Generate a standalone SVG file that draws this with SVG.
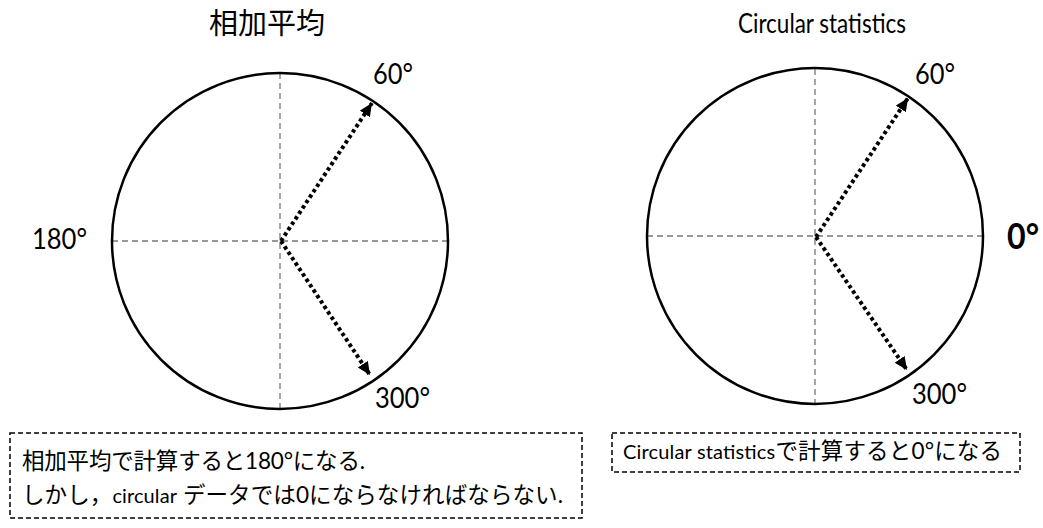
<svg xmlns="http://www.w3.org/2000/svg" width="1043" height="528" viewBox="0 0 1043 528">
<defs>
<style>
.lat{font-family:Lato,"Noto Sans CJK JP",sans-serif;fill:#000}
.jp{font-family:"Noto Sans CJK JP",sans-serif;fill:#000}
.circ{fill:none;stroke:#000;stroke-width:2.5}
.axis{stroke:#777;stroke-width:1.3;stroke-dasharray:6 4;fill:none}
.vec{stroke:#000;stroke-width:4;stroke-dasharray:3.5 3;fill:none}
.box{fill:none;stroke:#000;stroke-width:1.5;stroke-dasharray:5 3}
</style>
<marker id="ah" markerUnits="userSpaceOnUse" markerWidth="16" markerHeight="14" refX="13" refY="6" orient="auto">
<path d="M0,0 L13,6 L0,12 Z" fill="#000"/>
</marker>
</defs>
<rect width="1043" height="528" fill="#fff"/>
<g id="title-left"><text class="jp" x="209" y="34" font-size="29">相加平均</text></g>
<g id="title-right"><text class="lat" x="738" y="33" font-size="27" textLength="168" lengthAdjust="spacingAndGlyphs">Circular statistics</text></g>
<g id="circle-left">
<line class="axis" x1="280" y1="73" x2="280" y2="408"/>
<line class="axis" x1="112" y1="241" x2="448" y2="241"/>
<circle class="circ" cx="280" cy="241" r="168"/>
</g>
<g id="circle-right">
<line class="axis" x1="815" y1="69" x2="815" y2="403"/>
<line class="axis" x1="647" y1="236" x2="983" y2="236"/>
<circle class="circ" cx="815" cy="236" r="168"/>
</g>
<g id="connectors">
<line class="vec" x1="281" y1="241" x2="372" y2="103" marker-end="url(#ah)"/>
<line class="vec" x1="281" y1="241" x2="370" y2="375" marker-end="url(#ah)"/>
<line class="vec" x1="816" y1="237" x2="908" y2="98" marker-end="url(#ah)"/>
<line class="vec" x1="816" y1="237" x2="907" y2="370" marker-end="url(#ah)"/>
</g>
<g id="labels">
<text class="lat" x="373" y="84" font-size="28" textLength="40" lengthAdjust="spacingAndGlyphs">60°</text>
<text class="lat" x="375" y="408" font-size="28" textLength="55" lengthAdjust="spacingAndGlyphs">300°</text>
<text class="lat" x="32" y="249" font-size="28" textLength="55" lengthAdjust="spacingAndGlyphs">180°</text>
<text class="lat" x="915" y="84" font-size="28" textLength="40" lengthAdjust="spacingAndGlyphs">60°</text>
<text class="lat" x="912" y="404" font-size="28" textLength="55" lengthAdjust="spacingAndGlyphs">300°</text>
<text class="lat" x="1007" y="249" font-size="36" font-weight="bold" textLength="32" lengthAdjust="spacingAndGlyphs">0°</text>
</g>
<g id="note-left">
<rect class="box" x="10" y="433" width="572" height="85"/>
<text class="lat" x="22" y="469" font-size="22.5" textLength="343">相加平均で計算すると180°になる.</text>
<text class="lat" x="22" y="503" font-size="22.5" textLength="541">しかし，<tspan font-size="20">circular</tspan> データでは0にならなければならない.</text>
</g>
<g id="note-right">
<rect class="box" x="612" y="433" width="408" height="39"/>
<text class="lat" x="623" y="459" font-size="22.5" textLength="379"><tspan font-size="20">Circular statistics</tspan>で計算すると0°になる</text>
</g>
</svg>
